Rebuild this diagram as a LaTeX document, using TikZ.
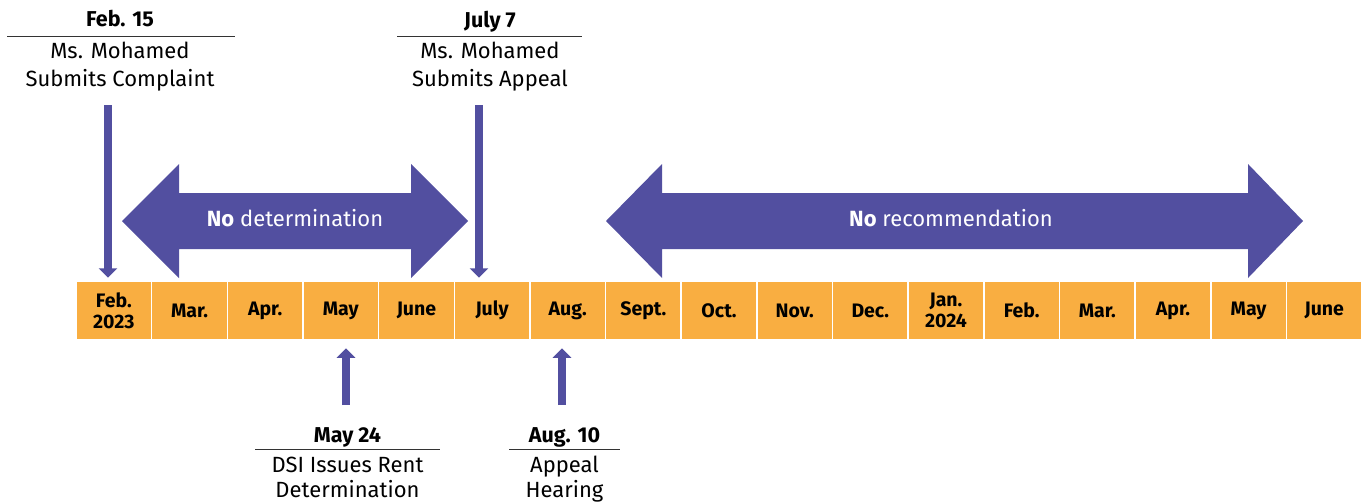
\documentclass[tikz,border=0pt]{standalone}
\usepackage{fontspec}
\setmainfont{Fira Sans}
\usetikzlibrary{arrows.meta,positioning}
\definecolor{tlorange}{HTML}{F9AE41}
\definecolor{tlpurple}{HTML}{524FA0}
\definecolor{tlrule}{HTML}{333333}
\tikzset{
  month/.style={fill=tlorange, draw=white, line width=1.5pt, minimum width=75.65pt, minimum height=58pt, inner sep=0pt, align=center, font=\fontsize{19.5}{21}\selectfont\bfseries},
  datehead/.style={anchor=base, inner sep=0pt, font=\fontsize{21.5}{24}\selectfont\bfseries},
  datebody/.style={anchor=base, inner sep=0pt, font=\fontsize{22}{24}\selectfont},
  daterule/.style={draw=tlrule, line width=1pt},
  pin/.style={draw=tlpurple, line width=8.5pt, -{Triangle[width=18pt,length=9.5pt]}},
  span/.style={fill=tlpurple},
  spantext/.style={text=white, anchor=base, inner sep=0pt, font=\fontsize{22}{24}\selectfont}
}
\begin{document}
\begin{tikzpicture}[x=1pt,y=-1pt]
\useasboundingbox (0,0) rectangle (1364,503);
% months
\foreach \lbl [count=\i] in {{Feb.\\2023},Mar.,Apr.,May,June,July,Aug.,Sept.,Oct.,Nov.,Dec.,{Jan.\\2024},Feb.,Mar.,Apr.,May,June}
  \node[month] (m\i) at ({76+75.65*(\i-0.5)},310.5) {\lbl};
% spans
\fill[span] (122,221) -- (179,164) -- (179,193) -- (411,193) -- (411,164) -- (468,221) -- (411,278) -- (411,249) -- (179,249) -- (179,278) -- cycle;
\node[spantext] (nodet) at (295,226) {\textbf{No} determination};
\fill[span] (606,221) -- (662,164) -- (662,193) -- (1248,193) -- (1248,164) -- (1303,221) -- (1248,278) -- (1248,249) -- (662,249) -- (662,278) -- cycle;
\node[spantext] (norec) at (951,226) {\textbf{No} recommendation};
% top events
\node[datehead] (feb15) at (120,27) {Feb. 15};
\draw[daterule] (7,36.5) -- (235,36.5);
\node[datebody] (feb15a) at (120,59) {Ms. Mohamed};
\node[datebody] (feb15b) at (120,86) {Submits Complaint};
\coordinate (feb15pin) at (108,105);
\draw[pin] (feb15pin) -- ([yshift=3pt]m1.north -| feb15pin);
\node[datehead] (jul7) at (490,28) {July 7};
\draw[daterule] (397,36.5) -- (582,36.5);
\node[datebody] (jul7a) at (490,59) {Ms. Mohamed};
\node[datebody] (jul7b) at (490,86) {Submits Appeal};
\coordinate (jul7pin) at (479,105);
\draw[pin] (jul7pin) -- ([yshift=3pt]m6.north -| jul7pin);
% bottom events
\node[datehead] (may24) at (347.5,442) {May 24};
\draw[daterule] (255,449.5) -- (440,449.5);
\node[datebody] (may24a) at (347.5,472) {DSI Issues Rent};
\node[datebody] (may24b) at (347.5,497) {Determination};
\coordinate (may24pin) at (346,405);
\draw[pin] (may24pin) -- ([yshift=-8pt]m4.south -| may24pin);
\node[datehead] (aug10) at (564.5,442) {Aug. 10};
\draw[daterule] (509,449.5) -- (620,449.5);
\node[datebody] (aug10a) at (564.5,472) {Appeal};
\node[datebody] (aug10b) at (564.5,497) {Hearing};
\coordinate (aug10pin) at (562,405);
\draw[pin] (aug10pin) -- ([yshift=-8pt]m7.south -| aug10pin);
\end{tikzpicture}
\end{document}
